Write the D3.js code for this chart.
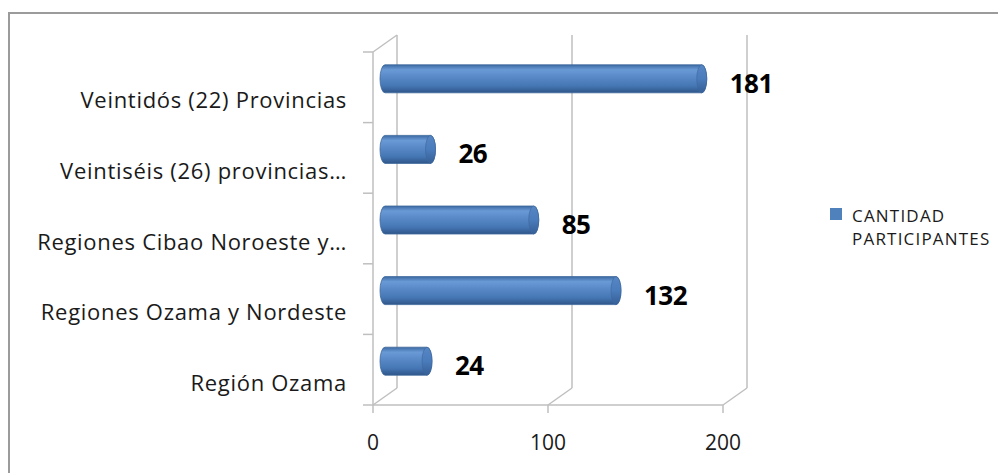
<!DOCTYPE html>
<html lang="es">
<head>
<meta charset="UTF-8">
<script src="https://d3js.org/d3.v7.min.js"></script>
<style>
  body { margin: 0; background: #fff; }
  svg text { font-family: "Open Sans", Lato, sans-serif; }
</style>
</head>
<body>
<svg id="chart" width="998" height="473"></svg>
<script>
// data, top to bottom as drawn
var categories = ['Veintidós (22) Provincias', 'Veintiséis (26) provincias…',
  'Regiones Cibao Noroeste y…', 'Regiones Ozama y Nordeste', 'Región Ozama'];
var participantes = [181, 26, 85, 132, 24];
var xTicks = [0, 100, 200];
var seriesName = ['CANTIDAD', 'PARTICIPANTES'];

var svg = d3.select('#chart');

// outer chart border (only top and left visible in the frame)
svg.append('path').attr('d', 'M9,473 V13 H998')
  .attr('fill', 'none').attr('stroke', '#9b9b9b').attr('stroke-width', 2);

var x = d3.scaleLinear().domain([0, 200]).range([373, 723]);
var y = d3.scaleBand().domain(categories).range([52, 405]);
var depthX = 24, depthY = -17;   // 3d wall depth

var defs = svg.append('defs');
var g1 = defs.append('linearGradient').attr('id', 'cyl')
  .attr('x1', 0).attr('y1', 0).attr('x2', 0).attr('y2', 1);
[['0%', '#3d6aa3'], ['18%', '#6a9ad6'], ['40%', '#5b8bc9'], ['75%', '#4677b5'], ['100%', '#2f5689']]
  .forEach(function (s) { g1.append('stop').attr('offset', s[0]).attr('stop-color', s[1]); });
var g2 = defs.append('linearGradient').attr('id', 'cap')
  .attr('x1', 0).attr('y1', 0).attr('x2', 0).attr('y2', 1);
[['0%', '#5786c4'], ['50%', '#4a7bbb'], ['100%', '#355f96']]
  .forEach(function (s) { g2.append('stop').attr('offset', s[0]).attr('stop-color', s[1]); });

var grid = svg.append('g').attr('stroke', '#bfbfbf').attr('stroke-width', 1.5).attr('fill', 'none');
var y0 = y.range()[0], y1 = y.range()[1];

// back wall gridlines + floor diagonals
xTicks.forEach(function (t) {
  grid.append('line')
    .attr('x1', x(t) + depthX).attr('x2', x(t) + depthX)
    .attr('y1', y0 + depthY).attr('y2', y1 + depthY);
  grid.append('line')
    .attr('x1', x(t)).attr('y1', y1)
    .attr('x2', x(t) + depthX).attr('y2', y1 + depthY);
});
// left wall
grid.append('line').attr('x1', x(0)).attr('y1', y0).attr('x2', x(0) + depthX).attr('y2', y0 + depthY);
grid.append('line').attr('x1', x(0)).attr('y1', y0).attr('x2', x(0)).attr('y2', y1);
// front floor edge
grid.append('line').attr('x1', x(0)).attr('y1', y1).attr('x2', x(200)).attr('y2', y1);

// category ticks
var ticksY = categories.map(function (c) { return y(c); }).concat([y1]);
ticksY.forEach(function (ty) {
  grid.append('line').attr('x1', x(0) - 10).attr('x2', x(0)).attr('y1', ty).attr('y2', ty);
});
// value ticks
xTicks.forEach(function (t) {
  grid.append('line').attr('x1', x(t)).attr('x2', x(t)).attr('y1', y1).attr('y2', y1 + 8);
});

// tick labels
svg.append('g').selectAll('text').data(xTicks).enter().append('text')
  .attr('x', function (d) { return x(d); }).attr('y', 450)
  .attr('text-anchor', 'middle').attr('font-size', 21).attr('fill', '#1a1a1a')
  .text(function (d) { return d; });

svg.append('g').selectAll('text').data(categories).enter().append('text')
  .attr('x', 347).attr('y', function (d) { return y(d) + y.bandwidth() / 2 + 21; })
  .attr('text-anchor', 'end').attr('font-size', 22).attr('letter-spacing', 0.7).attr('fill', '#1a1a1a')
  .text(function (d) { return d; });

// cylinder bars at mid depth
var bh = 28, rx = 5;
var bars = svg.append('g');
participantes.forEach(function (v, i) {
  var cy = y(categories[i]) + y.bandwidth() / 2 + depthY / 2;
  var xs = x(0) + depthX / 2, xe = x(v) + depthX / 2;
  var top = cy - bh / 2, bot = cy + bh / 2;
  bars.append('path')
    .attr('d', 'M' + xs + ',' + top + ' L' + xe + ',' + top +
      ' A' + rx + ',' + bh / 2 + ' 0 0 1 ' + xe + ',' + bot +
      ' L' + xs + ',' + bot +
      ' A' + rx + ',' + bh / 2 + ' 0 0 1 ' + xs + ',' + top + 'Z')
    .attr('fill', 'url(#cyl)').attr('stroke', '#3c679c').attr('stroke-width', 0.8);
  bars.append('ellipse').attr('cx', xe).attr('cy', cy).attr('rx', rx).attr('ry', bh / 2)
    .attr('fill', 'url(#cap)').attr('stroke', '#3c679c').attr('stroke-width', 0.6);
  svg.append('text')
    .attr('x', xe + rx + 23).attr('y', cy + 14)
    .attr('font-family', 'Lato, sans-serif')
    .attr('font-size', 26).attr('font-weight', 'bold').attr('letter-spacing', -0.5).attr('fill', '#000')
    .text(v);
});

// legend
var lg = svg.append('g');
lg.append('rect').attr('x', 830).attr('y', 208).attr('width', 12).attr('height', 12).attr('fill', '#4f81bd');
lg.selectAll('text').data(seriesName).enter().append('text')
  .attr('x', 852).attr('y', function (d, i) { return 222 + i * 23; })
  .attr('font-size', 17).attr('letter-spacing', 1.2).attr('fill', '#1a1a1a')
  .text(function (d) { return d; });
</script>
</body>
</html>
